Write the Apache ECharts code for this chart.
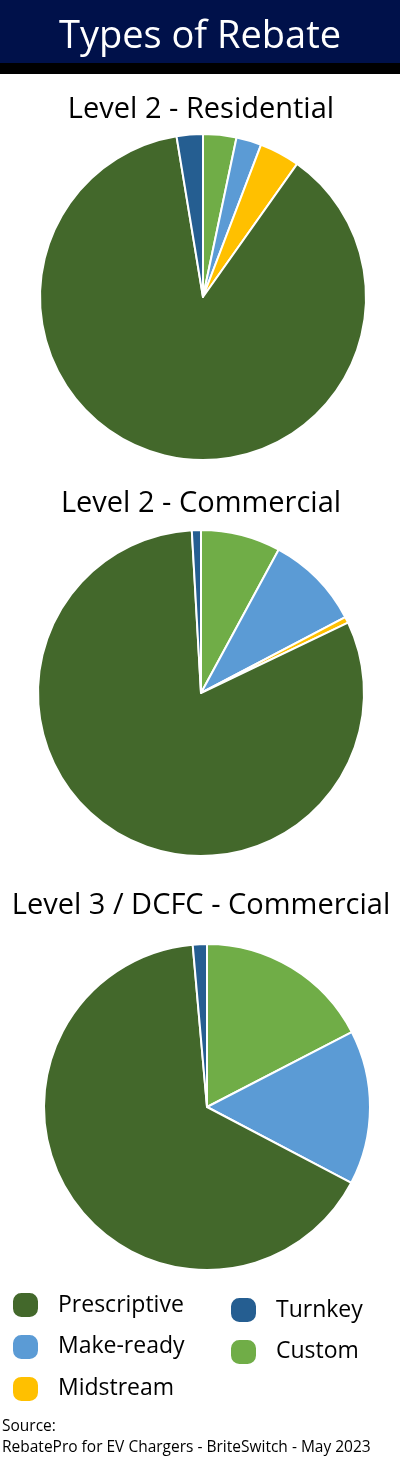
<!DOCTYPE html>
<html lang="en">
<head>
    <meta charset="UTF-8">
    <script src="https://cdn.jsdelivr.net/npm/echarts@6/dist/echarts.min.js"></script>
    <style>
        body { margin: 0; background: #fff; }
    </style>
</head>
<body>
<div style="width: 400px;height: 1462px" id="chart"></div>

<script>
    // slice order = clockwise from 12 o'clock
    var categories = ['Custom', 'Make-ready', 'Midstream', 'Prescriptive', 'Turnkey']
    var residential = [3.3, 2.5, 4.0, 87.6, 2.6]
    var commercial = [7.9, 9.4, 0.6, 81.2, 0.9]
    var dcfc = [17.4, 15.3, 0, 65.9, 1.4]
    var pieTitles = ['Level 2 - Residential', 'Level 2 - Commercial', 'Level 3 / DCFC - Commercial']

    var colors = {
        'Custom': '#70AD47',
        'Make-ready': '#5B9BD5',
        'Midstream': '#FFC000',
        'Prescriptive': '#43682B',
        'Turnkey': '#255E91'
    }
    var font = '"Open Sans", "Noto Sans", sans-serif'

    function toData(values) {
        var out = []
        values.forEach(function (v, i) {
            if (v > 0) out.push({ name: categories[i], value: v, itemStyle: { color: colors[categories[i]] } })
        })
        return out
    }

    var centers = [[203, 297], [201, 693], [207, 1107]]
    var titleY = [110, 504, 906]
    var allValues = [residential, commercial, dcfc]

    var myChart = echarts.init(document.getElementById('chart'))

    var series = allValues.map(function (vals, i) {
        return {
            name: pieTitles[i],
            type: 'pie',
            center: centers[i],
            radius: 163,
            startAngle: 90,
            clockwise: true,
            label: { show: false },
            labelLine: { show: false },
            itemStyle: { borderColor: '#fff', borderWidth: 2 },
            emphasis: { disabled: true },
            data: toData(vals)
        }
    })

    var graphic = [
        { type: 'rect', shape: { x: 0, y: 0, width: 400, height: 64 }, style: { fill: '#00114A' } },
        { type: 'rect', shape: { x: 0, y: 63, width: 400, height: 11 }, style: { fill: '#000' } },
        {
            type: 'text', x: 200, y: 37,
            style: { text: 'Types of Rebate', fill: '#fff', font: '38px ' + font, textAlign: 'center', textVerticalAlign: 'middle' }
        },
        {
            type: 'text', x: 2, y: 1416,
            style: { text: 'Source:\nRebatePro for EV Chargers - BriteSwitch - May 2023', fill: '#000', font: '15.5px ' + font, lineHeight: 21 }
        }
    ]
    pieTitles.forEach(function (t, i) {
        graphic.push({
            type: 'text', x: 201, y: titleY[i],
            style: { text: t, fill: '#000', font: '29px ' + font, textAlign: 'center', textVerticalAlign: 'middle' }
        })
    })

    // rounded square marker like the original legend
    var blob = 'path://M9,0 H17 A9,9 0 0 1 26,9 V16 A9,9 0 0 1 17,25 H9 A9,9 0 0 1 0,16 V9 A9,9 0 0 1 9,0 Z'

    var legendBase = {
        orient: 'vertical',
        icon: blob,
        itemWidth: 27,
        itemHeight: 26,
        itemGap: 14,
        padding: 0,
        selectedMode: false,
        textStyle: { fontSize: 23, fontFamily: font, color: '#000', padding: [0, 0, 0, 14] }
    }

    var option = {
        animation: false,
        graphic: graphic,
        legend: [
            Object.assign({}, legendBase, { left: 11, top: 1291, data: ['Prescriptive', 'Make-ready', 'Midstream'] }),
            Object.assign({}, legendBase, { left: 229, top: 1296, data: ['Turnkey', 'Custom'] })
        ],
        series: series
    }

    option && myChart.setOption(option)
</script>
</body>
</html>
